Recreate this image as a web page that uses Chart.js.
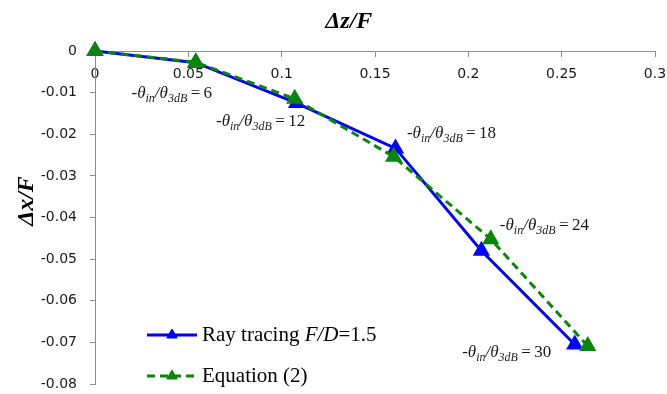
<!DOCTYPE html>
<html>
<head>
<meta charset="utf-8">
<script src="https://cdn.jsdelivr.net/npm/chart.js@4"></script>
<style>
  html, body { margin: 0; padding: 0; background: #fff; }
</style>
</head>
<body>
<canvas id="chart" width="667" height="394"></canvas>
<script>
// Ray tracing (F/D = 1.5) vs. equation (2): lateral vs. axial focal shift
const rayZ = [0, 0.054, 0.108, 0.161, 0.207, 0.257];
const rayX = [0, -0.0028, -0.0125, -0.0234, -0.048, -0.0705];
const eqZ = [0, 0.054, 0.107, 0.160, 0.212, 0.264];
const eqX = [0, -0.0027, -0.0115, -0.0254, -0.0452, -0.0709];

// theta_in / theta_3dB for the points 1..5
const ratios = [6, 12, 18, 24, 30];

const xTicks = ['0', '0.05', '0.1', '0.15', '0.2', '0.25', '0.3'];
const yTicks = ['-0.08', '-0.07', '-0.06', '-0.05', '-0.04', '-0.03', '-0.02', '-0.01', '0'];

// where each ratio label sits relative to its ray tracing point (px)
const labelShift = [[-24, 30], [-36, 18], [56, -15], [63, -26], [-68, 8]];

const serif = '"Liberation Serif", "Times New Roman", serif';
const BLUE = '#0000ff';
const GREEN = '#0a860a';

function toPoints(xs, ys) {
    return xs.map((v, i) => ({ x: v, y: ys[i] }));
}

// labels near the edges must not shrink the plot area
function noEdgePadding(s) {
    s.paddingLeft = s.paddingRight = s.paddingTop = s.paddingBottom = 0;
}

// draws "-θin/θ3dB=n" with italic subscripts, centred on (cx, cy)
function drawRatio(ctx, cx, cy, n) {
    const main = 'italic 17px ' + serif;
    const sub = 'italic 12px ' + serif;
    const parts = [
        ['-θ', main, 0],
        ['in', sub, 4],
        ['/θ', main, 0],
        ['3dB', sub, 4],
        ['\u2009=\u2009' + n, '17px ' + serif, 0]
    ];
    let total = 0;
    parts.forEach(p => { ctx.font = p[1]; total += ctx.measureText(p[0]).width; });
    let x = cx - total / 2;
    ctx.textAlign = 'left';
    ctx.textBaseline = 'alphabetic';
    ctx.fillStyle = '#1a1a1a';
    parts.forEach(p => {
        ctx.font = p[1];
        ctx.fillText(p[0], x, cy + 5 + p[2]);
        x += ctx.measureText(p[0]).width;
    });
}

const ratioLabels = {
    id: 'ratioLabels',
    afterDatasetsDraw(chart) {
        const { ctx, scales: { x, y } } = chart;
        ctx.save();
        ratios.forEach((n, i) => {
            const px = x.getPixelForValue(rayZ[i + 1]) + labelShift[i][0];
            const py = y.getPixelForValue(rayX[i + 1]) + labelShift[i][1];
            drawRatio(ctx, px, py, n);
        });
        ctx.restore();
    }
};

const axisTitles = {
    id: 'axisTitles',
    afterDraw(chart) {
        const { ctx, chartArea } = chart;
        ctx.save();
        ctx.fillStyle = '#000';
        ctx.font = 'italic bold 24px ' + serif;
        ctx.textAlign = 'center';
        ctx.textBaseline = 'middle';
        ctx.fillText('Δz/F', chart.width * 0.523, 22);
        ctx.translate(27, chartArea.top + 150);
        ctx.rotate(-Math.PI / 2);
        ctx.fillText('Δx/F', 0, 0);
        ctx.restore();
    }
};

// legend with the line samples and mixed italic text
const sampleLegend = {
    id: 'sampleLegend',
    afterDraw(chart) {
        const { ctx, chartArea } = chart;
        const rows = [
            { ds: 0, y: chartArea.bottom - 49, text: [['Ray tracing ', ''], ['F/D', 'italic '], ['=1.5', '']] },
            { ds: 1, y: chartArea.bottom - 8, text: [['Equation (2)', '']] }
        ];
        const x0 = chartArea.left + 52;
        ctx.save();
        rows.forEach(r => {
            const ds = chart.data.datasets[r.ds];
            ctx.strokeStyle = ds.borderColor;
            ctx.lineWidth = ds.borderWidth;
            ctx.setLineDash(ds.borderDash || []);
            ctx.beginPath();
            ctx.moveTo(x0, r.y);
            ctx.lineTo(x0 + 50, r.y);
            ctx.stroke();
            ctx.setLineDash([]);
            ctx.fillStyle = ds.pointBackgroundColor;
            ctx.strokeStyle = ds.pointBorderColor;
            ctx.lineWidth = 1;
            Chart.helpers.drawPoint(ctx, {
                pointStyle: 'triangle',
                radius: ds.pointRadius - 1,
                borderWidth: 1
            }, x0 + 25, r.y);

            let tx = x0 + 55;
            ctx.fillStyle = '#000';
            ctx.textAlign = 'left';
            ctx.textBaseline = 'middle';
            r.text.forEach(t => {
                ctx.font = t[1] + '21px ' + serif;
                ctx.fillText(t[0], tx, r.y);
                tx += ctx.measureText(t[0]).width;
            });
        });
        ctx.restore();
    }
};

const ctx = document.getElementById('chart').getContext('2d');

new Chart(ctx, {
    type: 'line',
    data: {
        datasets: [
            {
                label: 'Ray tracing F/D=1.5',
                data: toPoints(rayZ, rayX),
                borderColor: BLUE,
                backgroundColor: BLUE,
                pointBackgroundColor: BLUE,
                pointBorderColor: BLUE,
                borderWidth: 3,
                pointStyle: 'triangle',
                pointRadius: 7,
                tension: 0,
                clip: false,
                order: 1
            },
            {
                label: 'Equation (2)',
                data: toPoints(eqZ, eqX),
                borderColor: GREEN,
                backgroundColor: GREEN,
                pointBackgroundColor: GREEN,
                pointBorderColor: GREEN,
                borderWidth: 3,
                borderDash: [8, 5],
                pointStyle: 'triangle',
                pointRadius: 7,
                tension: 0,
                clip: false,
                order: 0
            }
        ]
    },
    options: {
        responsive: false,
        animation: false,
        layout: { padding: { top: 51, right: 12, bottom: 7, left: 0 } },
        plugins: {
            legend: { display: false },
            title: { display: false },
            tooltip: { enabled: false }
        },
        scales: {
            x: {
                type: 'linear',
                position: { y: 0 },
                min: 0,
                max: 0.3,
                afterFit: s => { s.height = 0; noEdgePadding(s); },
                grid: { drawOnChartArea: false, tickLength: 5, color: '#8c8c8c' },
                border: { color: '#8c8c8c', width: 1 },
                ticks: {
                    stepSize: 0.05,
                    padding: 10,
                    color: '#1a1a1a',
                    font: { family: 'DejaVu Sans', size: 14 },
                    callback: (v, i) => xTicks[i]
                }
            },
            y: {
                type: 'linear',
                position: 'left',
                min: -0.08,
                max: 0,
                afterFit: s => { s.width = 95; noEdgePadding(s); },
                grid: { drawOnChartArea: false, tickLength: 5, color: '#8c8c8c' },
                border: { color: '#8c8c8c', width: 1 },
                ticks: {
                    stepSize: 0.01,
                    padding: 13,
                    color: '#1a1a1a',
                    font: { family: 'DejaVu Sans', size: 14 },
                    callback: (v, i) => yTicks[i]
                }
            }
        }
    },
    plugins: [ratioLabels, axisTitles, sampleLegend]
});
</script>
</body>
</html>
